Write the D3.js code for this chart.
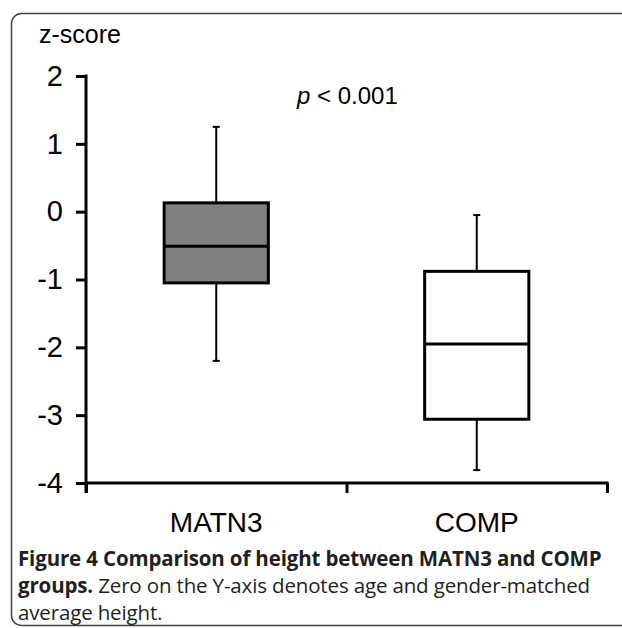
<!DOCTYPE html>
<html>
<head>
<meta charset="utf-8">
<script src="https://cdn.jsdelivr.net/npm/d3@7"></script>
<style>
  html, body { margin: 0; padding: 0; background: #fff; }
  svg { display: block; }
</style>
</head>
<body>
<script>
// box plot data (z-scores)
var groups      = ["MATN3", "COMP"];
var whiskerLow  = [-2.20, -3.81];
var quartile1   = [-1.05, -3.06];
var medians     = [-0.51, -1.95];
var quartile3   = [ 0.13, -0.88];
var whiskerHigh = [ 1.25, -0.05];
var boxFills    = ["#808080", "#ffffff"];
var yTicks      = [2, 1, 0, -1, -2, -3, -4];

var width = 622, height = 628;

var svg = d3.select("body").append("svg")
    .attr("width", width)
    .attr("height", height);

// panel frame, open on the right like the journal layout
svg.append("rect")
    .attr("x", 11.5).attr("y", 13.5)
    .attr("width", 660).attr("height", 612)
    .attr("rx", 10).attr("ry", 10)
    .attr("fill", "none")
    .attr("stroke", "#444")
    .attr("stroke-width", 1.5);

var y = d3.scaleLinear().domain([-4, 2]).range([483, 76]);
var x = d3.scaleBand().domain(groups).range([86, 607]).paddingInner(0).paddingOuter(0);
var xEdges = d3.scaleLinear().domain([0, groups.length]).range([86, 607]);

var data = groups.map(function (g, i) {
    return {
        name: g,
        lo: whiskerLow[i],
        q1: quartile1[i],
        med: medians[i],
        q3: quartile3[i],
        hi: whiskerHigh[i],
        fill: boxFills[i]
    };
});

var fontSans = "'Liberation Sans', Arial, sans-serif";

// y axis (plain hyphen for negatives, as in the original)
var yAxis = svg.append("g")
    .attr("transform", "translate(86,0)")
    .call(d3.axisLeft(y).tickValues(yTicks).tickFormat(function (d) { return String(d); })
        .tickSize(10).tickPadding(13).tickSizeOuter(0));
yAxis.select(".domain").remove();
yAxis.append("line")
    .attr("x1", 0).attr("x2", 0)
    .attr("y1", y(2) - 1.5).attr("y2", 493)
    .attr("stroke", "#000").attr("stroke-width", 3);
yAxis.selectAll(".tick line").attr("stroke", "#000").attr("stroke-width", 3);
yAxis.selectAll(".tick text")
    .attr("fill", "#000")
    .style("font-family", fontSans)
    .style("font-size", "29px");

// x axis: ticks sit on the band edges
var xAxis = svg.append("g")
    .attr("transform", "translate(0,483)")
    .call(d3.axisBottom(xEdges).ticks(2).tickSize(10).tickSizeOuter(0).tickFormat(""));
xAxis.select(".domain").remove();
xAxis.append("line")
    .attr("x1", 86).attr("x2", 608.5)
    .attr("stroke", "#000").attr("stroke-width", 3);
xAxis.selectAll(".tick line").attr("stroke", "#000").attr("stroke-width", 3);

svg.append("g").selectAll("text")
    .data(groups)
    .enter().append("text")
    .attr("x", function (d) { return x(d) + x.bandwidth() / 2; })
    .attr("y", 532)
    .attr("text-anchor", "middle")
    .style("font-family", fontSans)
    .style("font-size", "28px")
    .text(function (d) { return d; });

// boxes
var boxW = x.bandwidth() * 0.4;
var capW = 7;
var boxes = svg.append("g").selectAll("g")
    .data(data)
    .enter().append("g")
    .attr("transform", function (d) { return "translate(" + (x(d.name) + x.bandwidth() / 2) + ",0)"; });

boxes.append("line")
    .attr("x1", 0).attr("x2", 0)
    .attr("y1", function (d) { return y(d.hi); })
    .attr("y2", function (d) { return y(d.q3); })
    .attr("stroke", "#000").attr("stroke-width", 2);
boxes.append("line")
    .attr("x1", 0).attr("x2", 0)
    .attr("y1", function (d) { return y(d.q1); })
    .attr("y2", function (d) { return y(d.lo); })
    .attr("stroke", "#000").attr("stroke-width", 2);
boxes.selectAll(".cap")
    .data(function (d) { return [d.hi, d.lo]; })
    .enter().append("line")
    .attr("class", "cap")
    .attr("x1", -capW / 2).attr("x2", capW / 2)
    .attr("y1", function (v) { return y(v); })
    .attr("y2", function (v) { return y(v); })
    .attr("stroke", "#000").attr("stroke-width", 2);
boxes.append("rect")
    .attr("x", -boxW / 2)
    .attr("width", boxW)
    .attr("y", function (d) { return y(d.q3); })
    .attr("height", function (d) { return y(d.q1) - y(d.q3); })
    .attr("fill", function (d) { return d.fill; })
    .attr("stroke", "#000").attr("stroke-width", 3);
boxes.append("line")
    .attr("x1", -boxW / 2).attr("x2", boxW / 2)
    .attr("y1", function (d) { return y(d.med); })
    .attr("y2", function (d) { return y(d.med); })
    .attr("stroke", "#000").attr("stroke-width", 3);

// axis title and p-value
svg.append("text")
    .attr("x", 39).attr("y", 43)
    .style("font-family", fontSans)
    .style("font-size", "25px")
    .text("z-score");

var pText = svg.append("text")
    .attr("x", 297).attr("y", 104)
    .style("font-family", fontSans)
    .style("font-size", "24px");
pText.append("tspan").style("font-style", "italic").text("p");
pText.append("tspan").text(" < 0.001");

// caption
var caption = svg.append("g")
    .style("font-family", "'Open Sans', sans-serif")
    .style("font-size", "20.5px")
    .style("letter-spacing", "-0.15px")
    .attr("fill", "#231f20");
caption.append("text")
    .attr("x", 18).attr("y", 566)
    .style("font-weight", "bold")
    .text("Figure 4 Comparison of height between MATN3 and COMP");
var l2 = caption.append("text").attr("x", 18).attr("y", 593);
l2.append("tspan").style("font-weight", "bold").text("groups.");
l2.append("tspan").text(" Zero on the Y-axis denotes age and gender-matched");
caption.append("text")
    .attr("x", 18).attr("y", 620)
    .text("average height.");
</script>
</body>
</html>
